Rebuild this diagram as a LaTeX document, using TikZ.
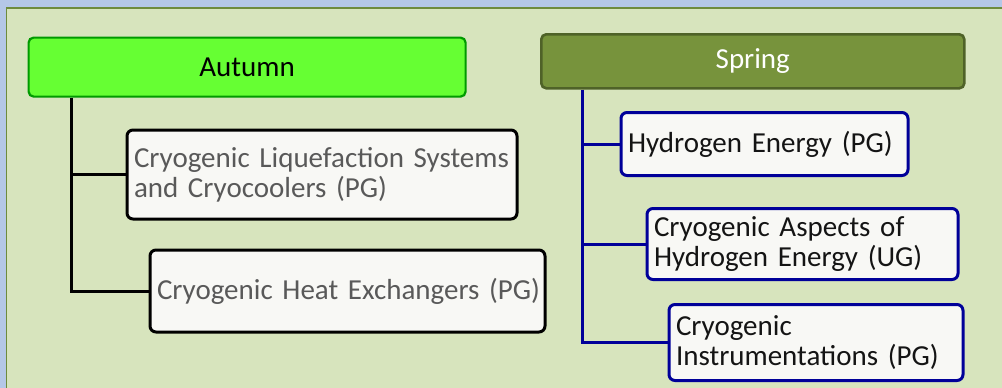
\documentclass[tikz,border=0pt]{standalone}
\usepackage{fontspec}
\setmainfont{Carlito}
\definecolor{bgblue}{HTML}{B4C7E7}
\definecolor{panel}{HTML}{D7E4BD}
\definecolor{panelline}{HTML}{6E8B3D}
\definecolor{autfill}{HTML}{66FF33}
\definecolor{autline}{HTML}{009A00}
\definecolor{sprfill}{HTML}{77933C}
\definecolor{sprline}{HTML}{4F6228}
\definecolor{boxfill}{HTML}{F8F8F5}
\definecolor{navy}{HTML}{000099}
\definecolor{graytext}{HTML}{595959}
\definecolor{darktext}{HTML}{141414}
\tikzset{
  head/.style={rounded corners=5pt, anchor=north west, inner sep=0pt,
    font=\fontsize{29}{30}\selectfont},
  autumnhead/.style={head, fill=autfill, draw=autline, line width=2.2pt, text=black},
  springhead/.style={head, fill=sprfill, draw=sprline, line width=2.6pt, text=white},
  course/.style={rounded corners=6pt, anchor=north west, fill=boxfill, line width=3pt,
    inner xsep=7pt, inner ysep=0pt, align=left,
    font=\fontsize{29}{30}\selectfont},
  leftcourse/.style={course, draw=black, text=graytext},
  rightcourse/.style={course, draw=navy, text=darktext},
  leftconn/.style={draw=black, line width=3pt},
  rightconn/.style={draw=navy, line width=3pt},
}
\begin{document}
\begin{tikzpicture}[x=1pt, y=-1pt]
  \useasboundingbox (0,0) rectangle (1002,388);
  \fill[bgblue] (0,0) rectangle (1002,388);
  \filldraw[fill=panel, draw=panelline, line width=1.5pt] (6.5,8) rectangle (1010,400);

  % Autumn
  \node[autumnhead, minimum width=437pt, minimum height=59pt] (autumn) at (27.5,36.5) {Autumn};
  \node[leftcourse, minimum width=390pt, minimum height=89pt, text width=376pt] (liq) at (125.5,128.5)
    {\mbox{Cryogenic Liquefaction Systems}\\\mbox{and Cryocoolers (PG)}};
  \node[leftcourse, minimum width=395pt, minimum height=82pt, text width=381pt] (hex) at (148.5,248.5)
    {\mbox{Cryogenic Heat Exchangers (PG)}};
  \coordinate (ltop) at ([xshift=43.5pt]autumn.south west);
  \draw[leftconn] (ltop) |- (hex.west);
  \draw[leftconn] (ltop |- liq.west) -- (liq.west);

  % Spring
  \node[springhead, minimum width=423pt, minimum height=54pt] (spring) at (540,33) {Spring};
  \node[rightcourse, minimum width=287pt, minimum height=63pt, text width=273pt] (hyd) at (619.5,111)
    {\mbox{Hydrogen Energy (PG)}};
  \node[rightcourse, minimum width=311pt, minimum height=71pt, text width=297pt] (asp) at (645.5,207)
    {\mbox{Cryogenic Aspects of}\\\mbox{Hydrogen Energy (UG)}};
  \node[rightcourse, minimum width=294pt, minimum height=76pt, text width=280pt] (ins) at (667.5,303)
    {\mbox{Cryogenic}\\\mbox{Instrumentations (PG)}};
  \coordinate (rtop) at ([xshift=42pt]spring.south west);
  \draw[rightconn] (rtop) |- (ins.west);
  \draw[rightconn] (rtop |- hyd.west) -- (hyd.west);
  \draw[rightconn] (rtop |- asp.west) -- (asp.west);
\end{tikzpicture}
\end{document}
